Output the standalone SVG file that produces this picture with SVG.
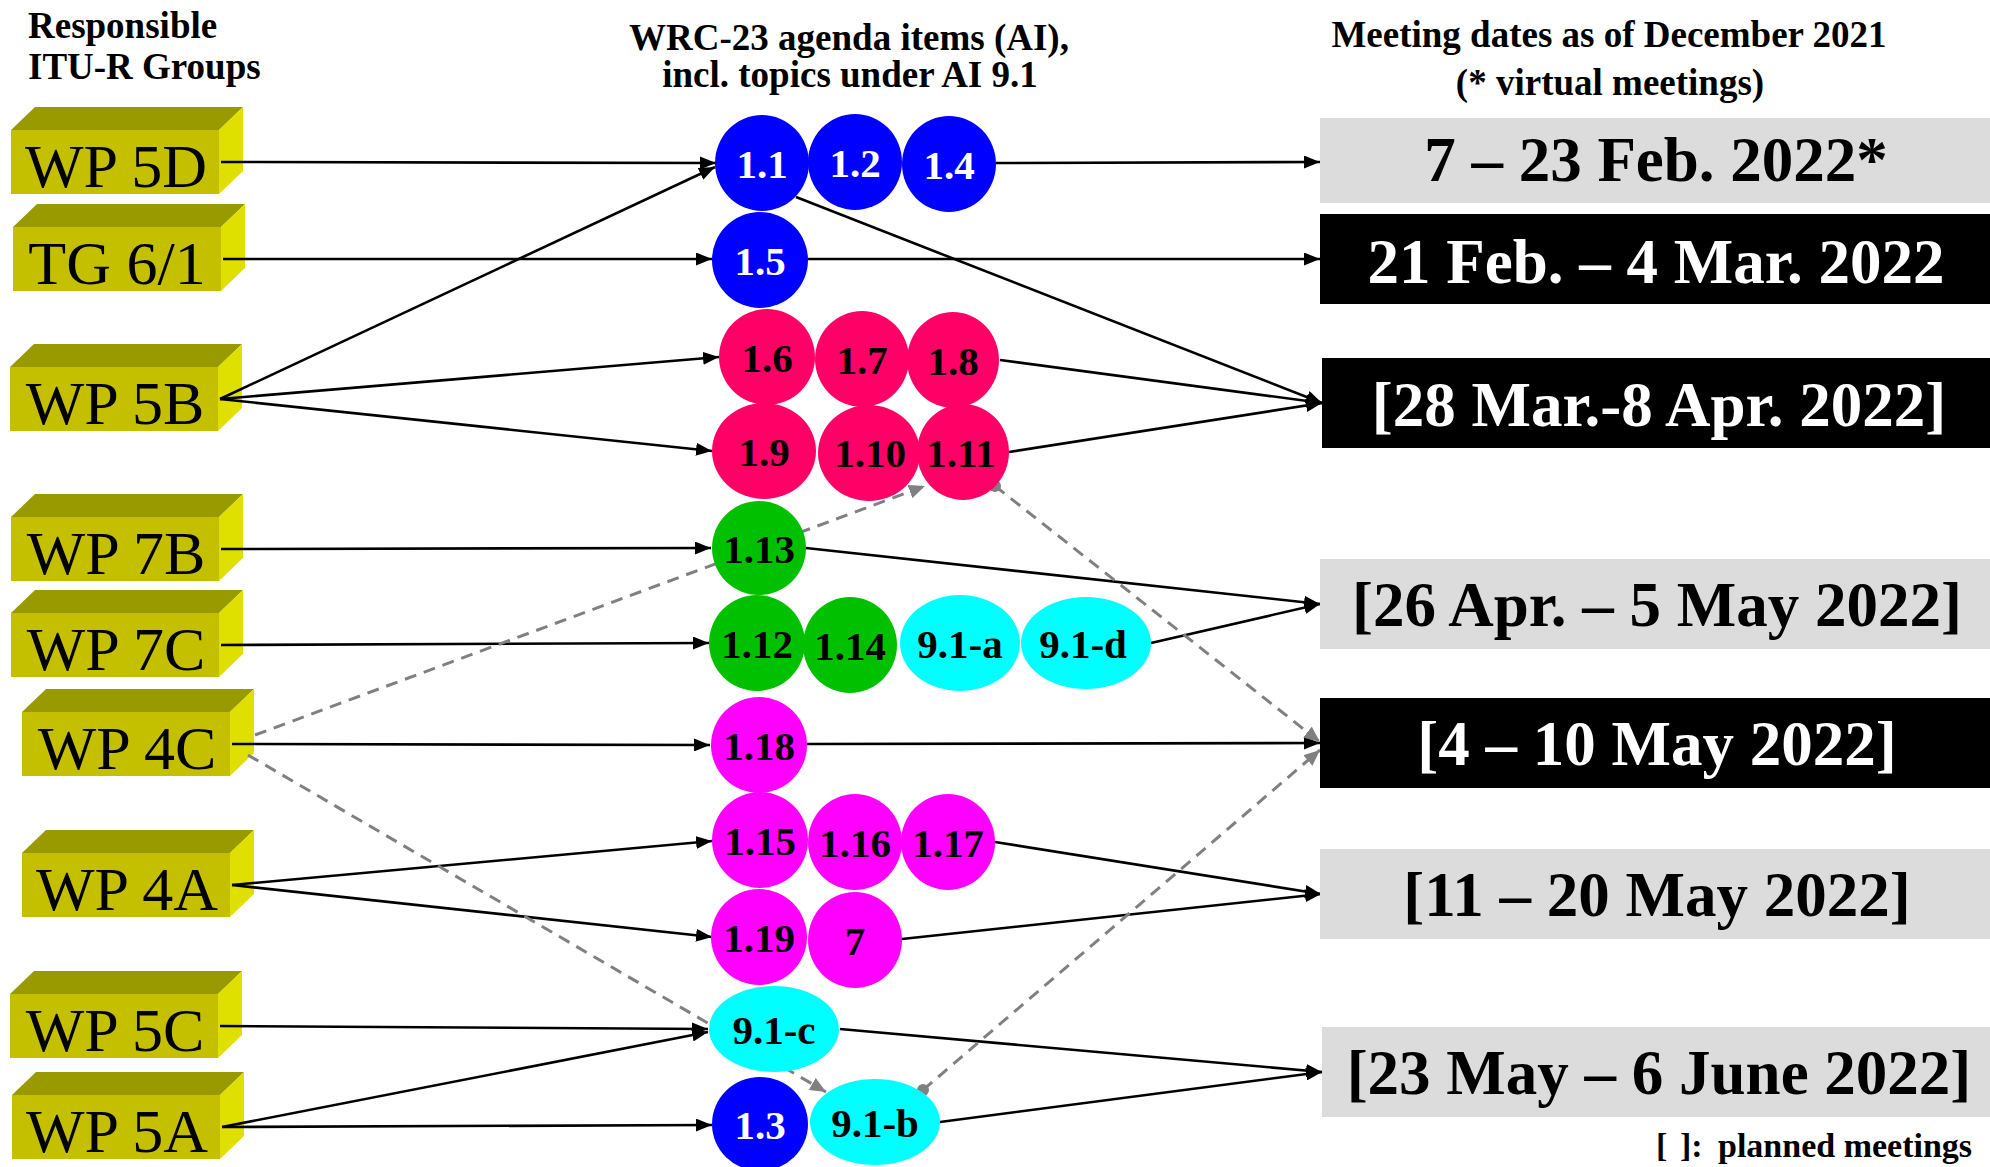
<svg xmlns="http://www.w3.org/2000/svg" width="1990" height="1167" viewBox="0 0 1990 1167">
<style>
.hdr{font-family:"Liberation Serif","Times New Roman",serif;font-weight:bold;font-size:37px;fill:#000}
.front{fill:#C4C000}
.top{fill:#999900}
.side{fill:#E0E000}
.wp{font-family:"Liberation Serif","Times New Roman",serif;font-size:62px;fill:#000;text-anchor:middle}
.ai{font-family:"Liberation Serif","Times New Roman",serif;font-weight:bold;font-size:41px;text-anchor:middle;fill:#000}
.w{fill:#fff}
.blue{fill:#0000FF}
.red{fill:#FF0066}
.green{fill:#00C000}
.cyan{fill:#00FFFF}
.mag{fill:#FF00FF}
.date{font-family:"Liberation Serif","Times New Roman",serif;font-weight:bold;font-size:63px;text-anchor:middle}
.gray{fill:#DCDCDC}
.blk{fill:#000}
.ln{stroke:#000;stroke-width:2.6;fill:none;marker-end:url(#ah)}
.dl{stroke:#808080;stroke-width:3;stroke-dasharray:12 8;fill:none;marker-end:url(#gh)}
.dot{marker-start:url(#gd)}
</style>
<defs>
<marker id="ah" viewBox="0 0 16 13" refX="16" refY="6.5" markerWidth="16" markerHeight="13" markerUnits="userSpaceOnUse" orient="auto">
<path d="M0,0 L16,6.5 L0,13 Z" fill="#000"/>
</marker>
<marker id="gh" viewBox="0 0 16 14" refX="16" refY="7" markerWidth="16" markerHeight="14" markerUnits="userSpaceOnUse" orient="auto">
<path d="M0,0 L16,7 L0,14 Z" fill="#808080"/>
</marker>
<marker id="gd" viewBox="0 0 12 12" refX="6" refY="6" markerWidth="12" markerHeight="12" markerUnits="userSpaceOnUse">
<circle cx="6" cy="6" r="6" fill="#808080"/>
</marker>
</defs>
<rect width="1990" height="1167" fill="#fff"/>

<g id="headers">
<text class="hdr" x="28" y="38">Responsible</text>
<text class="hdr" x="28" y="79">ITU-R Groups</text>
<text class="hdr" x="849" y="50" text-anchor="middle">WRC-23 agenda items (AI),</text>
<text class="hdr" x="850" y="87" text-anchor="middle">incl. topics under AI 9.1</text>
<text class="hdr" x="1609" y="47" text-anchor="middle">Meeting dates as of December 2021</text>
<text class="hdr" x="1610" y="95" text-anchor="middle">(* virtual meetings)</text>
</g>

<g id="wp5d" transform="translate(11,130)">
<polygon class="top" points="0,0 24,-23 232,-23 208,0"/>
<polygon class="side" points="208,0 232,-23 232,41 208,64"/>
<rect class="front" width="208" height="64"/>
<text class="wp" x="105" y="57">WP 5D</text>
</g>
<g id="tg61" transform="translate(13,227)">
<polygon class="top" points="0,0 24,-23 232,-23 208,0"/>
<polygon class="side" points="208,0 232,-23 232,41 208,64"/>
<rect class="front" width="208" height="64"/>
<text class="wp" x="104" y="57">TG 6/1</text>
</g>
<g id="wp5b" transform="translate(10,367)">
<polygon class="top" points="0,0 24,-23 232,-23 208,0"/>
<polygon class="side" points="208,0 232,-23 232,41 208,64"/>
<rect class="front" width="208" height="64"/>
<text class="wp" x="105" y="57">WP 5B</text>
</g>
<g id="wp7b" transform="translate(11,517)">
<polygon class="top" points="0,0 24,-23 232,-23 208,0"/>
<polygon class="side" points="208,0 232,-23 232,41 208,64"/>
<rect class="front" width="208" height="64"/>
<text class="wp" x="105" y="57">WP 7B</text>
</g>
<g id="wp7c" transform="translate(11,613)">
<polygon class="top" points="0,0 24,-23 232,-23 208,0"/>
<polygon class="side" points="208,0 232,-23 232,41 208,64"/>
<rect class="front" width="208" height="64"/>
<text class="wp" x="105" y="57">WP 7C</text>
</g>
<g id="wp4c" transform="translate(22,712)">
<polygon class="top" points="0,0 24,-23 232,-23 208,0"/>
<polygon class="side" points="208,0 232,-23 232,41 208,64"/>
<rect class="front" width="208" height="64"/>
<text class="wp" x="105" y="57">WP 4C</text>
</g>
<g id="wp4a" transform="translate(22,853)">
<polygon class="top" points="0,0 24,-23 232,-23 208,0"/>
<polygon class="side" points="208,0 232,-23 232,41 208,64"/>
<rect class="front" width="208" height="64"/>
<text class="wp" x="105" y="57">WP 4A</text>
</g>
<g id="wp5c" transform="translate(10,994)">
<polygon class="top" points="0,0 24,-23 232,-23 208,0"/>
<polygon class="side" points="208,0 232,-23 232,41 208,64"/>
<rect class="front" width="208" height="64"/>
<text class="wp" x="105" y="57">WP 5C</text>
</g>
<g id="wp5a" transform="translate(12,1095)">
<polygon class="top" points="0,0 24,-23 232,-23 208,0"/>
<polygon class="side" points="208,0 232,-23 232,41 208,64"/>
<rect class="front" width="208" height="64"/>
<text class="wp" x="105" y="57">WP 5A</text>
</g>

<g id="connectors">
<line class="ln" x1="221" y1="162" x2="716" y2="163"/>
<line class="ln" x1="220" y1="399" x2="715" y2="167"/>
<line class="ln" x1="220" y1="399" x2="719" y2="357"/>
<line class="ln" x1="220" y1="399" x2="712" y2="451"/>
<line class="ln" x1="223" y1="259" x2="712" y2="259"/>
<line class="ln" x1="221" y1="549" x2="711" y2="548"/>
<line class="ln" x1="221" y1="645" x2="709" y2="643"/>
<line class="ln" x1="232" y1="744" x2="710" y2="745"/>
<line class="ln" x1="232" y1="885" x2="712" y2="841"/>
<line class="ln" x1="232" y1="885" x2="712" y2="937"/>
<line class="ln" x1="220" y1="1026" x2="708" y2="1029"/>
<line class="ln" x1="222" y1="1127" x2="708" y2="1032"/>
<line class="ln" x1="222" y1="1127" x2="712" y2="1125"/>
<line class="ln" x1="996" y1="163" x2="1320" y2="162"/>
<line class="ln" x1="808" y1="259" x2="1320" y2="259"/>
<line class="ln" x1="796" y1="197" x2="1322" y2="403"/>
<line class="ln" x1="1000" y1="360" x2="1322" y2="403"/>
<line class="ln" x1="1009" y1="452" x2="1322" y2="403"/>
<line class="ln" x1="806" y1="548" x2="1320" y2="604"/>
<line class="ln" x1="1151" y1="643" x2="1320" y2="604"/>
<line class="ln" x1="807" y1="744" x2="1320" y2="743"/>
<line class="ln" x1="995" y1="842" x2="1321" y2="894"/>
<line class="ln" x1="902" y1="939" x2="1321" y2="894"/>
<line class="ln" x1="840" y1="1029" x2="1322" y2="1072"/>
<line class="ln" x1="940" y1="1122" x2="1322" y2="1072"/>
<line class="dl" x1="255" y1="735" x2="925" y2="486"/>
<line class="dl dot" x1="995" y1="486" x2="1320" y2="742"/>
<line class="dl" x1="248" y1="755" x2="826" y2="1092"/>
<line class="dl dot" x1="923" y1="1090" x2="1320" y2="750"/>
</g>

<g id="ai-1-1"><ellipse class="blue" cx="762" cy="163" rx="47" ry="48"/><text class="ai w" x="762" y="178">1.1</text></g>
<g id="ai-1-2"><ellipse class="blue" cx="855" cy="162" rx="47" ry="48"/><text class="ai w" x="855" y="177">1.2</text></g>
<g id="ai-1-4"><ellipse class="blue" cx="949" cy="164" rx="47" ry="48"/><text class="ai w" x="949" y="179">1.4</text></g>
<g id="ai-1-5"><ellipse class="blue" cx="760" cy="260" rx="48" ry="48"/><text class="ai w" x="760" y="275">1.5</text></g>
<g id="ai-1-6"><ellipse class="red" cx="767" cy="357" rx="48" ry="48"/><text class="ai" x="767" y="372">1.6</text></g>
<g id="ai-1-7"><ellipse class="red" cx="862" cy="359" rx="47" ry="48"/><text class="ai" x="862" y="374">1.7</text></g>
<g id="ai-1-8"><ellipse class="red" cx="953" cy="360" rx="46" ry="48"/><text class="ai" x="953" y="375">1.8</text></g>
<g id="ai-1-9"><ellipse class="red" cx="764" cy="451" rx="52" ry="48"/><text class="ai" x="764" y="466">1.9</text></g>
<g id="ai-1-10"><ellipse class="red" cx="869" cy="453" rx="51" ry="48"/><text class="ai" x="870" y="467">1.10</text></g>
<g id="ai-1-11"><ellipse class="red" cx="963" cy="452" rx="46" ry="48"/><text class="ai" x="961" y="467">1.11</text></g>
<g id="ai-1-13"><ellipse class="green" cx="759" cy="548" rx="47" ry="47"/><text class="ai" x="759" y="563">1.13</text></g>
<g id="ai-1-12"><ellipse class="green" cx="757" cy="643" rx="48" ry="48"/><text class="ai" x="757" y="658">1.12</text></g>
<g id="ai-1-14"><ellipse class="green" cx="850" cy="645" rx="47" ry="48"/><text class="ai" x="850" y="660">1.14</text></g>
<g id="ai-9-1-a"><ellipse class="cyan" cx="960" cy="643" rx="60" ry="48"/><text class="ai" x="960" y="658">9.1-a</text></g>
<g id="ai-9-1-d"><ellipse class="cyan" cx="1086" cy="643" rx="65" ry="46"/><text class="ai" x="1083" y="658">9.1-d</text></g>
<g id="ai-1-18"><ellipse class="mag" cx="759" cy="745" rx="48" ry="48"/><text class="ai" x="759" y="760">1.18</text></g>
<g id="ai-1-15"><ellipse class="mag" cx="760" cy="840" rx="48" ry="48"/><text class="ai" x="760" y="855">1.15</text></g>
<g id="ai-1-16"><ellipse class="mag" cx="855" cy="842" rx="47" ry="48"/><text class="ai" x="855" y="857">1.16</text></g>
<g id="ai-1-17"><ellipse class="mag" cx="948" cy="842" rx="47" ry="48"/><text class="ai" x="948" y="857">1.17</text></g>
<g id="ai-1-19"><ellipse class="mag" cx="759" cy="937" rx="48" ry="48"/><text class="ai" x="759" y="952">1.19</text></g>
<g id="ai-7"><ellipse class="mag" cx="855" cy="940" rx="47" ry="48"/><text class="ai" x="855" y="955">7</text></g>
<g id="ai-9-1-c"><ellipse class="cyan" cx="774" cy="1029" rx="65" ry="43"/><text class="ai" x="774" y="1044">9.1-c</text></g>
<g id="ai-1-3"><ellipse class="blue" cx="760" cy="1124" rx="48" ry="47"/><text class="ai w" x="760" y="1139">1.3</text></g>
<g id="ai-9-1-b"><ellipse class="cyan" cx="875" cy="1122" rx="65" ry="43"/><text class="ai" x="875" y="1137">9.1-b</text></g>

<g id="d1"><rect class="gray" x="1320" y="118" width="670" height="85"/><text class="date" x="1656" y="181" fill="#000">7 – 23 Feb. 2022*</text></g>
<g id="d2"><rect class="blk" x="1320" y="214" width="670" height="90"/><text class="date" x="1656" y="283" fill="#fff">21 Feb. – 4 Mar. 2022</text></g>
<g id="d3"><rect class="blk" x="1322" y="358" width="668" height="90"/><text class="date" x="1659" y="426" fill="#fff">[28 Mar.-8 Apr. 2022]</text></g>
<g id="d4"><rect class="gray" x="1320" y="559" width="670" height="90"/><text class="date" x="1657" y="626" fill="#000">[26 Apr. – 5 May 2022]</text></g>
<g id="d5"><rect class="blk" x="1320" y="698" width="670" height="90"/><text class="date" x="1657" y="765" fill="#fff">[4 – 10 May 2022]</text></g>
<g id="d6"><rect class="gray" x="1320" y="849" width="670" height="90"/><text class="date" x="1657" y="916" fill="#000">[11 – 20 May 2022]</text></g>
<g id="d7"><rect class="gray" x="1322" y="1027" width="668" height="90"/><text class="date" x="1659" y="1094" fill="#000">[23 May – 6 June 2022]</text></g>

<g id="legend">
<text class="hdr" style="font-size:34px" y="1157"><tspan x="1656">[</tspan><tspan x="1680">]:</tspan><tspan x="1718">planned meetings</tspan></text>
</g>
</svg>
